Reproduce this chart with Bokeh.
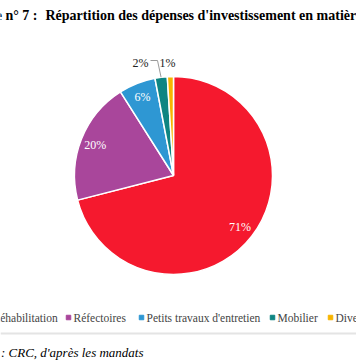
import math
from bokeh.plotting import figure
from bokeh.models import Range1d, ColumnDataSource
from bokeh.core.properties import value
from bokeh.embed import file_html
from bokeh.resources import INLINE

# ---- data ----
categories = ["Réhabilitation", "Réfectoires", "Petits travaux d'entretien", "Mobilier", "Divers"]
shares = [71, 20, 6, 2, 1]
labels = ["71%", "20%", "6%", "2%", "1%"]
colors = ["#F5192E", "#A9469B", "#2E97D3", "#0E8582", "#F7B500"]

title_prefix = "Graphique n° 7 :"
title_main = "Répartition des dépenses d'investissement en matière de restauration scolaire"
source_text = "Source : CRC, d'après les mandats"

# ---- layout (reference pixel coordinates, y measured from top) ----
W, H = 356, 364
def Y(yr):
    return H - yr

cx, cy, r = 173, 175, 99
legend_x = [-13, 68, 141, 272, 330]   # marker x positions
legend_y = 317

p = figure(width=W, height=H, output_backend="svg", toolbar_location=None,
           x_range=Range1d(0, W), y_range=Range1d(0, H), min_border=0)
p.axis.visible = False
p.grid.visible = False
p.outline_line_color = None
p.background_fill_color = "white"

total = sum(shares)
starts, ends, mids = [], [], []
cum = 0.0
for s in shares:
    a0 = math.pi / 2 - 2 * math.pi * cum / total
    cum += s
    a1 = math.pi / 2 - 2 * math.pi * cum / total
    starts.append(a0); ends.append(a1); mids.append((a0 + a1) / 2)

src = ColumnDataSource(dict(start=starts, end=ends, color=colors))
p.wedge(x=cx, y=Y(cy), radius=r, start_angle="start", end_angle="end", direction="clock",
        fill_color="color", line_color="white", line_width=1.5, source=src)

serif = value("Liberation Serif")
for i in range(3):
    lx = cx + 0.85 * r * math.cos(mids[i])
    ly = Y(cy) + 0.85 * r * math.sin(mids[i])
    p.text(x=[lx], y=[ly], text=[labels[i]], text_color="white", text_font=serif,
           text_font_size="12px", text_align="center", text_baseline="middle")

p.text(x=[140], y=[Y(62)], text=[labels[3]], text_color="#222222", text_font=serif,
       text_font_size="12px", text_align="center", text_baseline="middle")
p.text(x=[167], y=[Y(62)], text=[labels[4]], text_color="#222222", text_font=serif,
       text_font_size="12px", text_align="center", text_baseline="middle")
ex = cx + r * math.cos(mids[3]); ey = Y(cy) + r * math.sin(mids[3])
p.line(x=[150, 157, ex], y=[Y(60), Y(60), ey], line_color="#9a9a9a", line_width=1)

p.text(x=[37], y=[Y(15)], text=[title_prefix], text_font=serif, text_font_style="bold",
       text_font_size="14px", text_align="right", text_baseline="middle", text_color="black")
p.text(x=[45], y=[Y(15)], text=[title_main], text_font=serif, text_font_style="bold",
       text_font_size="14px", text_align="left", text_baseline="middle", text_color="black")

p.scatter(x=legend_x, y=[Y(legend_y)] * 5, marker="square", size=4.5, color=colors)
for i, c in enumerate(categories):
    p.text(x=[legend_x[i] + 5], y=[Y(legend_y)], text=[c], text_font=serif,
           text_font_size="11.5px", text_align="left", text_baseline="middle", text_color="#444444")

p.line(x=[0, W], y=[Y(333), Y(333)], line_color="#e4e4e4", line_width=2)

p.text(x=[143], y=[Y(352)], text=[source_text], text_font=serif, text_font_style="italic",
       text_font_size="13px", text_align="right", text_baseline="middle", text_color="black")

open("out.html", "w").write(file_html(p, INLINE))
